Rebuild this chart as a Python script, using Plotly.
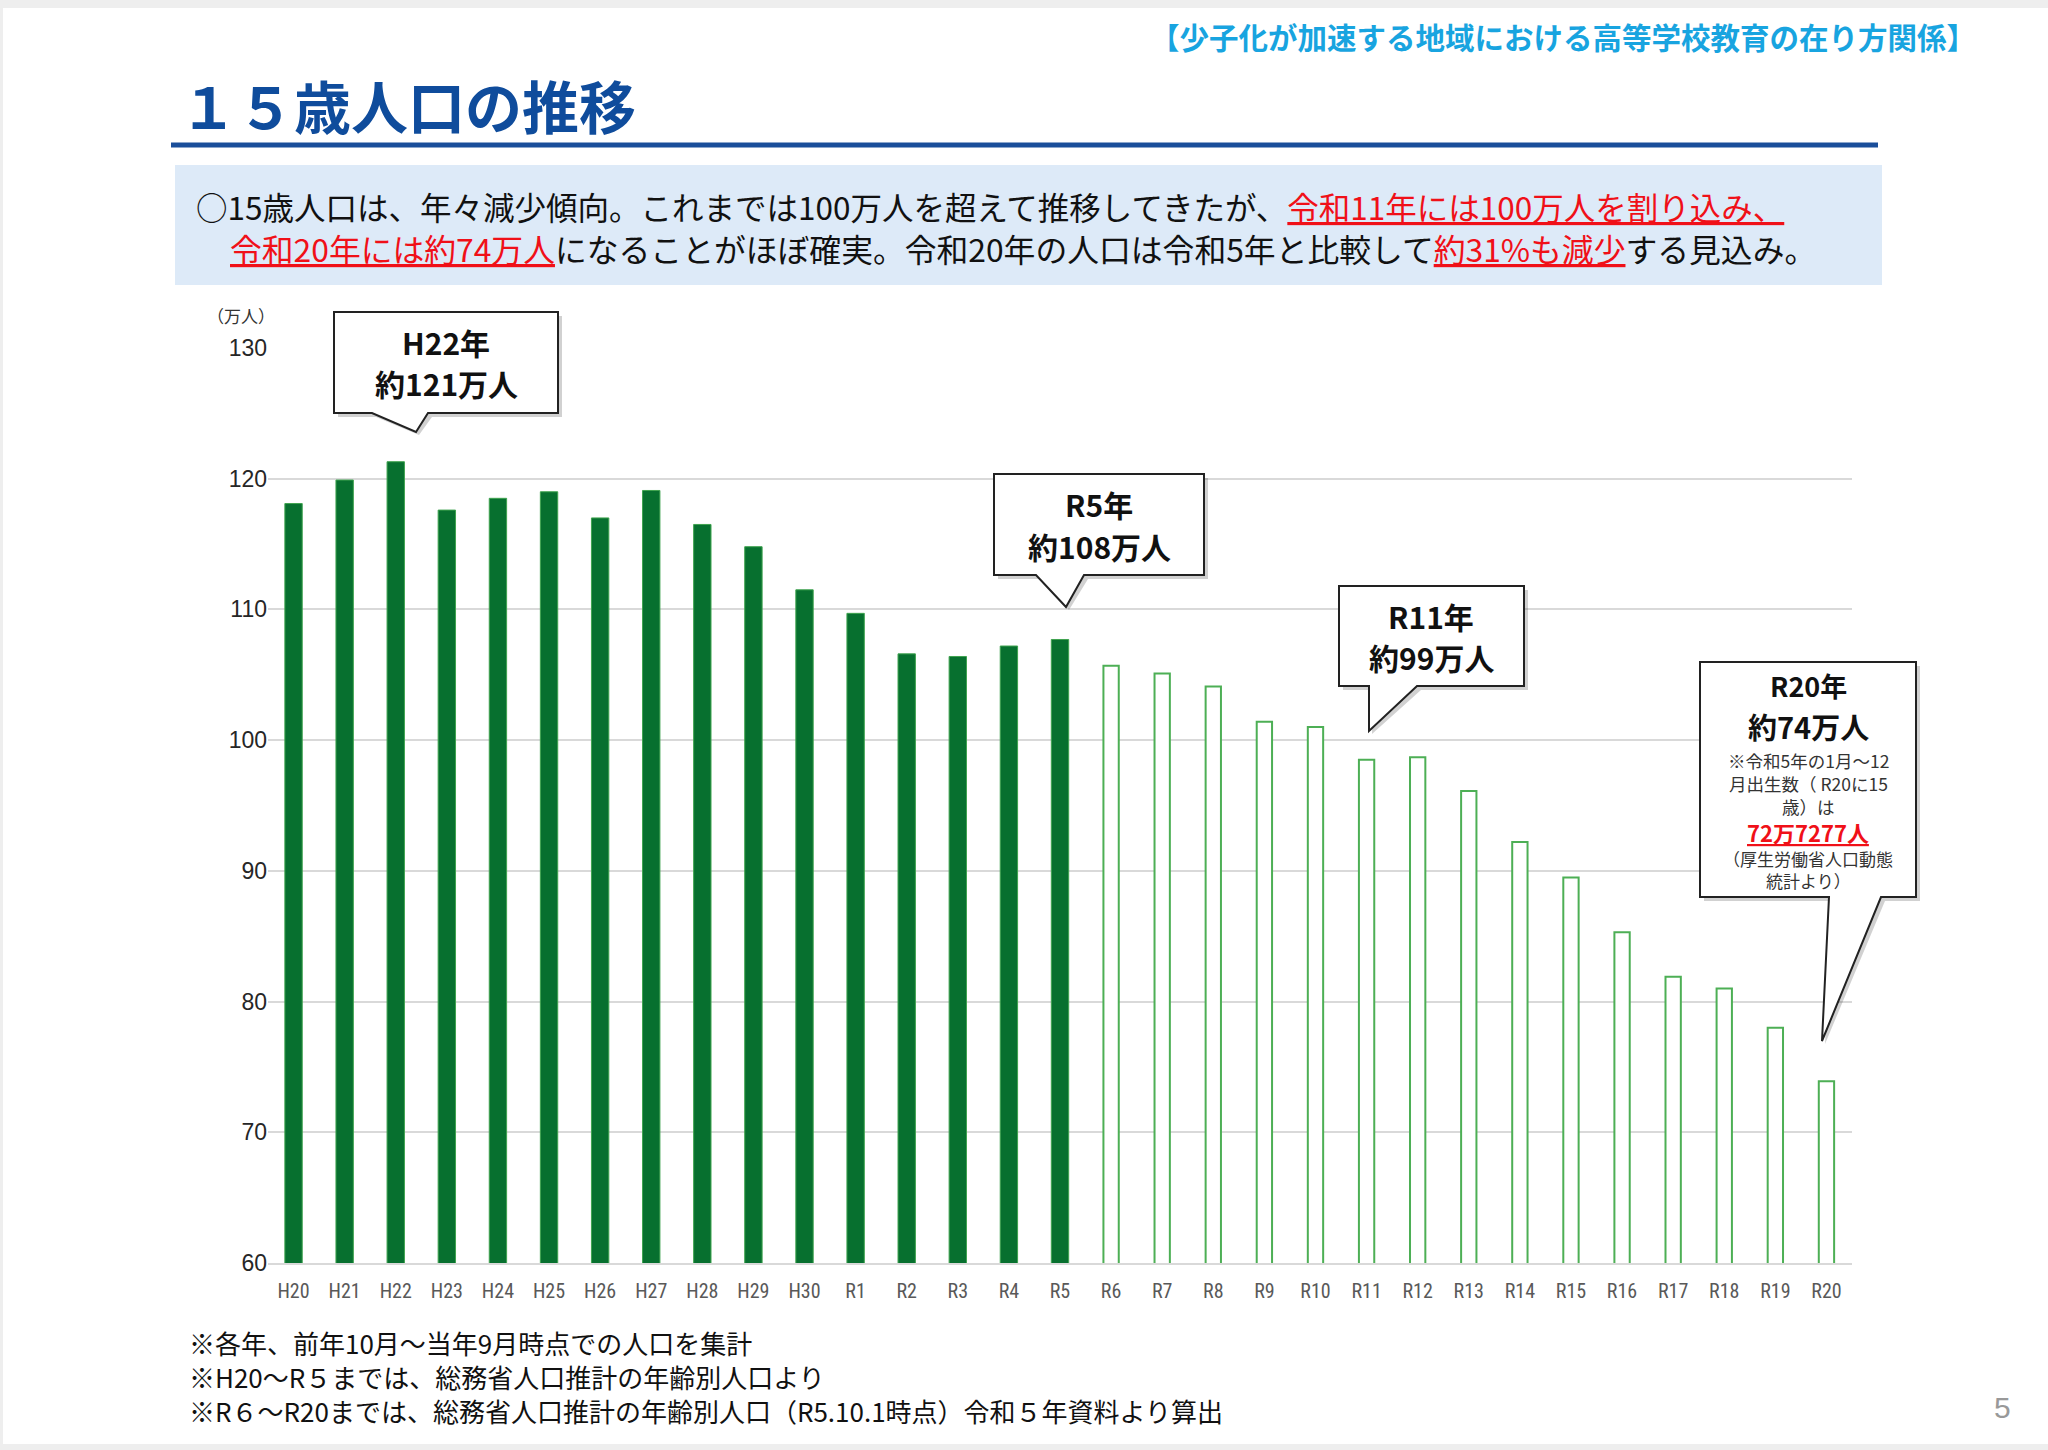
import plotly.graph_objects as go

# ---------------- data ----------------
categories = ["H20", "H21", "H22", "H23", "H24", "H25", "H26", "H27", "H28", "H29", "H30",
              "R1", "R2", "R3", "R4", "R5", "R6", "R7", "R8", "R9", "R10",
              "R11", "R12", "R13", "R14", "R15", "R16", "R17", "R18", "R19", "R20"]
actual_cats = categories[:16]
actual_values = [118.1, 119.9, 121.3, 117.6, 118.5, 119.0, 117.0, 119.1, 116.5, 114.8, 111.5,
                 109.7, 106.6, 106.4, 107.2, 107.7]
proj_cats = categories[16:]
proj_values = [105.7, 105.1, 104.1, 101.4, 101.0, 98.5, 98.7, 96.1, 92.2, 89.5,
               85.3, 81.9, 81.0, 78.0, 73.9]
y_ticks = [60, 70, 80, 90, 100, 110, 120, 130]

# ---------------- geometry helpers (page pixels -> paper) ----------------
W, H = 2048, 1450
PL, PR, PT, PB = 268, 1852, 348, 1263


def fx(x):
    return (x - PL) / (PR - PL)


def fy(y):
    return (PB - y) / (PB - PT)


JP = "Noto Sans CJK JP"
fig = go.Figure()
fig.add_trace(go.Bar(x=actual_cats, y=actual_values, width=0.34,
                     marker=dict(color="#07702F", line=dict(color="#3FA34F", width=1)),
                     showlegend=False, hoverinfo="x+y"))
fig.add_trace(go.Bar(x=proj_cats, y=proj_values, width=0.3,
                     marker=dict(color="white", line=dict(color="#4DAF55", width=2)),
                     showlegend=False, hoverinfo="x+y"))

shapes = []
annos = []

# page frame (light grey border strips)
for (x0, y0, x1, y1) in [(0, 0, W, 8), (0, 1444, W, H), (0, 0, 3, H)]:
    shapes.append(dict(type="rect", xref="paper", yref="paper", layer="below",
                       x0=fx(x0), x1=fx(x1), y0=fy(y1), y1=fy(y0),
                       fillcolor="#EEEEEE", line=dict(width=0)))

# header
annos.append(dict(x=fx(1978), y=fy(36), xref="paper", yref="paper", xanchor="right", yanchor="middle",
                  text="<b>【少子化が加速する地域における高等学校教育の在り方関係】</b>", showarrow=False,
                  font=dict(family=JP, size=29.5, color="#18A4E0")))
# title
annos.append(dict(x=fx(178), y=fy(104), xref="paper", yref="paper", xanchor="left", yanchor="middle",
                  text="<b>１５歳人口の推移</b>", showarrow=False,
                  font=dict(family=JP, size=57, color="#0F4C9C")))
# title underline
shapes.append(dict(type="line", xref="paper", yref="paper", x0=fx(171), x1=fx(1878), y0=fy(145), y1=fy(145),
                   line=dict(color="#1A4E9A", width=5)))
# light blue box
shapes.append(dict(type="rect", xref="paper", yref="paper", layer="below",
                   x0=fx(175), x1=fx(1882), y0=fy(285), y1=fy(165),
                   fillcolor="#DDEAF8", line=dict(width=0)))

RED = "#F01018"
U = "text-decoration:underline;"
line1 = ("○15歳人口は、年々減少傾向。これまでは100万人を超えて推移してきたが、"
         f"<span style='color:{RED};{U}'>令和11年には100万人を割り込み、</span>")
line2 = (f"<span style='color:{RED};{U}'>令和20年には約74万人</span>"
         "になることがほぼ確実。令和20年の人口は令和5年と比較して"
         f"<span style='color:{RED};{U}'>約31%も減少</span>する見込み。")
annos.append(dict(x=fx(194), y=fy(206), xref="paper", yref="paper", xanchor="left", yanchor="middle",
                  text=line1, showarrow=False, font=dict(family=JP, size=31.5, color="#111111")))
annos.append(dict(x=fx(228), y=fy(248), xref="paper", yref="paper", xanchor="left", yanchor="middle",
                  text=line2, showarrow=False, font=dict(family=JP, size=31.8, color="#111111")))

# y unit label
annos.append(dict(x=fx(241), y=fy(315), xref="paper", yref="paper", xanchor="center", yanchor="middle",
                  text="（万人）", showarrow=False, font=dict(family=JP, size=17, color="#333333")))


# callouts
def callout(x0, y0, x1, y1, bl, br, tip):
    tx, ty = tip
    path = (f"M {fx(x0)},{fy(y0)} L {fx(x1)},{fy(y0)} L {fx(x1)},{fy(y1)} "
            f"L {fx(br)},{fy(y1)} L {fx(tx)},{fy(ty)} L {fx(bl)},{fy(y1)} L {fx(x0)},{fy(y1)} Z")
    spath = (f"M {fx(x0+4)},{fy(y0+4)} L {fx(x1+4)},{fy(y0+4)} L {fx(x1+4)},{fy(y1+4)} "
             f"L {fx(br+4)},{fy(y1+4)} L {fx(tx+3)},{fy(ty+3)} L {fx(bl+4)},{fy(y1+4)} L {fx(x0+4)},{fy(y1+4)} Z")
    shapes.append(dict(type="path", xref="paper", yref="paper", path=spath,
                       fillcolor="rgba(0,0,0,0.18)", line=dict(width=0)))
    shapes.append(dict(type="path", xref="paper", yref="paper", path=path,
                       fillcolor="white", line=dict(color="#222222", width=2)))


def ctext(x, y, txt, size, color="#111111", bold=True):
    t = f"<b>{txt}</b>" if bold else txt
    annos.append(dict(x=fx(x), y=fy(y), xref="paper", yref="paper", xanchor="center", yanchor="middle",
                      text=t, showarrow=False, font=dict(family=JP, size=size, color=color)))


callout(334, 312, 558, 413, 372, 428, (416, 432))
ctext(446, 342, "H22年", 30)
ctext(446, 383, "約121万人", 30)

callout(994, 474, 1204, 575, 1036, 1084, (1066, 607))
ctext(1099, 504, "R5年", 30)
ctext(1099, 546, "約108万人", 30)

callout(1339, 586, 1524, 686, 1369, 1417, (1369, 731))
ctext(1431, 616, "R11年", 30)
ctext(1431, 657, "約99万人", 30)

callout(1700, 662, 1916, 897, 1829, 1881, (1822, 1041))
ctext(1808, 685, "R20年", 27)
ctext(1808, 726, "約74万人", 29)
ctext(1808, 760, "※令和5年の1月～12", 17.5, "#333333", False)
ctext(1808, 783, "月出生数（ R20に15", 17.5, "#333333", False)
ctext(1808, 806, "歳）は", 17.5, "#333333", False)
ctext(1808, 832, f"<span style='{U}'>72万7277人</span>", 22, RED)
ctext(1808, 858, "（厚生労働省人口動態", 17, "#333333", False)
ctext(1808, 881, "統計より）", 17, "#333333", False)

# footnotes
notes = ["※各年、前年10月～当年9月時点での人口を集計",
         "※H20～R５までは、総務省人口推計の年齢別人口より",
         "※R６～R20までは、総務省人口推計の年齢別人口（R5.10.1時点）令和５年資料より算出"]
for i, n in enumerate(notes):
    annos.append(dict(x=fx(187), y=fy(1342 + 34 * i), xref="paper", yref="paper",
                      xanchor="left", yanchor="middle", text=n, showarrow=False,
                      font=dict(family=JP, size=26, color="#111111")))
# page number
annos.append(dict(x=fx(2002), y=fy(1407), xref="paper", yref="paper", xanchor="center", yanchor="middle",
                  text="5", showarrow=False, font=dict(family="Liberation Sans", size=30, color="#999999")))

fig.update_layout(
    width=W, height=H,
    margin=dict(l=PL, r=W - PR, t=PT, b=H - PB, pad=0),
    paper_bgcolor="white", plot_bgcolor="white",
    barmode="overlay",
    shapes=shapes, annotations=annos,
    xaxis=dict(type="category", categoryorder="array", categoryarray=categories,
               showgrid=False, zeroline=False, showline=True, linecolor="#D9D9D9", linewidth=1.5,
               ticks="outside", ticklen=9, tickcolor="rgba(0,0,0,0)",
               tickfont=dict(family="Liberation Sans Narrow, Roboto Condensed, Liberation Sans", size=20,
                             color="#595959")),
    yaxis=dict(range=[60, 130], tickvals=y_ticks, showgrid=True, gridcolor="#D9D9D9", gridwidth=1.5,
               zeroline=False, showline=False, ticks="",
               tickfont=dict(family="Liberation Sans", size=23, color="#262626")),
)

fig.write_html("out.html")
